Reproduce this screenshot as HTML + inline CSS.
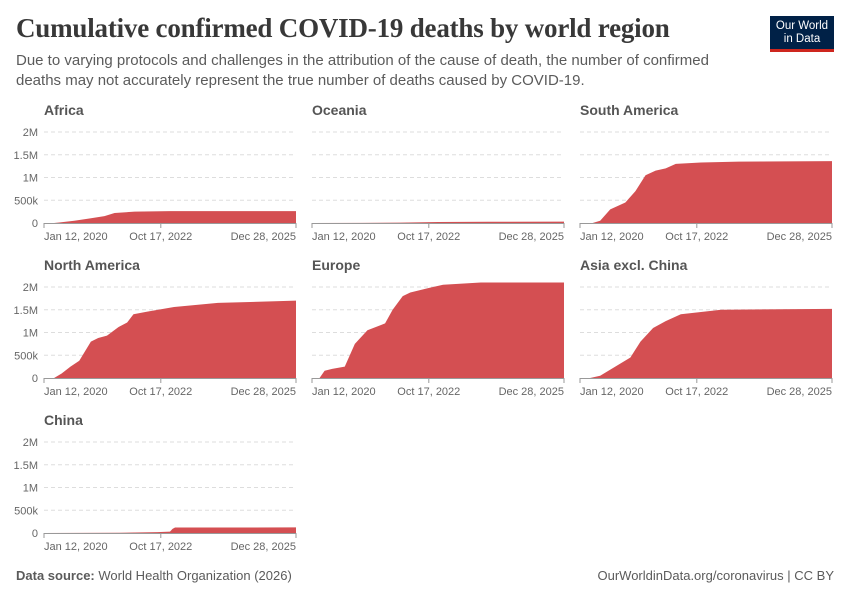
<!DOCTYPE html>
<html><head><meta charset="utf-8">
<style>
body{margin:0;background:#fff;font-family:"Liberation Sans",sans-serif;}
#wrap{position:relative;width:850px;height:600px;overflow:hidden;}
h1{position:absolute;left:16px;top:13px;margin:0;font-family:"Liberation Serif",serif;font-weight:bold;font-size:27px;color:#383838;letter-spacing:-0.2px;}
.sub{position:absolute;left:16px;top:51px;width:700px;font-size:15px;line-height:19.5px;color:#5b5b5b;}
.logo{position:absolute;left:770px;top:16px;width:64px;height:36px;background:#002147;color:#fff;font-size:11.5px;line-height:13px;text-align:center;padding-top:4px;box-sizing:border-box;border-bottom:3px solid #ce261e;}
.foot{position:absolute;top:568px;font-size:13px;color:#5b5b5b;}
</style></head><body>
<div id="wrap">
<h1>Cumulative confirmed COVID-19 deaths by world region</h1>
<div class="sub">Due to varying protocols and challenges in the attribution of the cause of death, the number of confirmed deaths may not accurately represent the true number of deaths caused by COVID-19.</div>
<div class="logo">Our World<br>in Data</div>
<svg id="svg" width="850" height="600" style="position:absolute;left:0;top:0"></svg>
<div class="foot" style="left:16px"><b>Data source:</b> World Health Organization (2026)</div>
<div class="foot" style="right:16px">OurWorldinData.org/coronavirus | CC BY</div>
</div>
<script>
const regions = ["Africa","Oceania","South America","North America","Europe","Asia excl. China","China"];
const tAfrica = [0,0.04,0.06,0.12,0.18,0.24,0.28,0.36,0.5,1];
const vAfrica = [0,0,0.01,0.05,0.1,0.15,0.22,0.25,0.26,0.26];
const tOceania = [0,0.2,0.35,0.5,0.7,1];
const vOceania = [0,0.002,0.008,0.022,0.028,0.031];
const tSouthAmerica = [0,0.05,0.08,0.12,0.18,0.22,0.26,0.3,0.34,0.38,0.48,0.63,1];
const vSouthAmerica = [0,0,0.05,0.3,0.45,0.7,1.05,1.15,1.2,1.3,1.33,1.35,1.36];
const tNorthAmerica = [0,0.04,0.07,0.105,0.14,0.186,0.215,0.25,0.296,0.33,0.355,0.41,0.516,0.59,0.69,1];
const vNorthAmerica = [0,0,0.1,0.25,0.38,0.8,0.88,0.93,1.12,1.22,1.4,1.46,1.56,1.6,1.65,1.7];
const tEurope = [0,0.03,0.05,0.08,0.13,0.17,0.22,0.29,0.32,0.36,0.39,0.465,0.52,0.67,1];
const vEurope = [0,0,0.16,0.2,0.25,0.75,1.05,1.2,1.5,1.8,1.88,1.98,2.05,2.1,2.1];
const tAsia = [0,0.04,0.08,0.14,0.2,0.24,0.29,0.34,0.4,0.48,0.56,1];
const vAsia = [0,0,0.05,0.25,0.45,0.8,1.1,1.25,1.4,1.45,1.5,1.52];
const tChina = [0,0.3,0.45,0.5,0.51,0.52,1];
const vChina = [0,0.005,0.02,0.03,0.09,0.12,0.123];
const seriesT = [tAfrica,tOceania,tSouthAmerica,tNorthAmerica,tEurope,tAsia,tChina];
const seriesV = [vAfrica,vOceania,vSouthAmerica,vNorthAmerica,vEurope,vAsia,vChina];
const yTicks = [0,0.5,1,1.5,2];
const yTickLabels = ["0","500k","1M","1.5M","2M"];
const xTicks = [0,0.4635,1];
const xTickLabels = ["Jan 12, 2020","Oct 17, 2022","Dec 28, 2025"];

const svg = document.getElementById('svg');
const NS = "http://www.w3.org/2000/svg";
function mk(tag, attrs){const e=document.createElementNS(NS,tag);for(const k in attrs)e.setAttribute(k,attrs[k]);svg.appendChild(e);return e;}
const colX=[44,312,580], rowY=[223,378,533], W=252, H=91;
regions.forEach((name,i)=>{
  const c=i%3, r=Math.floor(i/3);
  const x0=colX[c], y0=rowY[r];
  const xs=f=>x0+f*W, ys=v=>y0-v/2*H;
  const t=mk('text',{x:x0,y:y0-108,'font-size':14,'font-weight':'bold',fill:'#555'});
  t.textContent=name;
  
  
  yTicks.forEach((v,j)=>{
    if(j>0){const g=mk('line',{x1:x0,x2:x0+W,y1:ys(v),y2:ys(v),stroke:'#ddd','stroke-dasharray':'4,3'});
      
      }
    if(c==0){const l=mk('text',{x:x0-6,y:ys(v)+4,'font-size':11,fill:'#666','text-anchor':'end'});l.textContent=yTickLabels[j];
      
      }
  });
  const T=seriesT[i], V=seriesV[i];
  let d=`M${xs(T[0])},${ys(0)}`;
  T.forEach((f,k)=>{d+=` L${xs(f)},${ys(V[k])}`;});
  d+=` L${xs(T[T.length-1])},${ys(0)} Z`;
  const a=mk('path',{d:d,fill:'#d44f52'});
  
  
  const ax=mk('line',{x1:x0,x2:x0+W,y1:y0+0.5,y2:y0+0.5,stroke:'#999'});
  
  
  xTicks.forEach((f,j)=>{
    const tk=mk('line',{x1:xs(f),x2:xs(f),y1:y0,y2:y0+5,stroke:'#999'});
    
    
    const anc=j==0?'start':(j==xTicks.length-1?'end':'middle');
    const l=mk('text',{x:xs(f),y:y0+17,'font-size':11,fill:'#666','text-anchor':anc});
    l.textContent=xTickLabels[j];
    
    
  });
});
</script>
</body></html>
